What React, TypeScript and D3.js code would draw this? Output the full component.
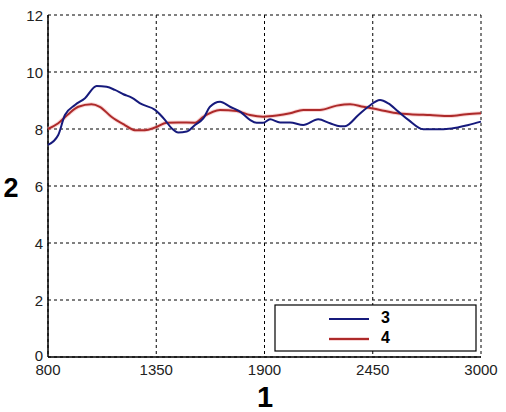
import React from "react";
import * as d3 from "d3";

const series3X = [800, 852, 886, 937, 988, 1047, 1098, 1140, 1183, 1225, 1276, 1344, 1394, 1429, 1462, 1505, 1547, 1589, 1623, 1674, 1725, 1776, 1826, 1860, 1894, 1928, 1979, 2030, 2097, 2173, 2233, 2284, 2309, 2377, 2427, 2487, 2529, 2580, 2631, 2707, 2766, 2851, 2936, 3000];
const series3Y = [7.44, 7.79, 8.49, 8.84, 9.08, 9.51, 9.48, 9.37, 9.22, 9.10, 8.87, 8.67, 8.32, 8.02, 7.88, 7.91, 8.14, 8.37, 8.78, 8.96, 8.78, 8.61, 8.32, 8.22, 8.22, 8.34, 8.23, 8.23, 8.14, 8.34, 8.20, 8.10, 8.10, 8.49, 8.78, 9.02, 8.90, 8.61, 8.32, 7.99, 7.99, 8.02, 8.14, 8.26];

const series4X = [800, 852, 903, 954, 1021, 1063, 1122, 1190, 1241, 1292, 1344, 1403, 1462, 1547, 1589, 1674, 1759, 1826, 1894, 1962, 2030, 2097, 2182, 2267, 2335, 2402, 2487, 2555, 2639, 2741, 2842, 2927, 3000];
const series4Y = [8.0, 8.2, 8.52, 8.78, 8.87, 8.78, 8.43, 8.14, 7.96, 7.96, 8.05, 8.22, 8.23, 8.22, 8.43, 8.67, 8.63, 8.49, 8.43, 8.47, 8.55, 8.67, 8.67, 8.82, 8.87, 8.78, 8.67, 8.57, 8.52, 8.49, 8.46, 8.52, 8.55];

const xTicks = [800, 1350, 1900, 2450, 3000];
const yTicks = [0, 2, 4, 6, 8, 10, 12];
const legendLabels = ["3", "4"];
const xLabel = "1";
const yLabel = "2";

const BLUE = "#161a7c";
const RED = "#ad2a2a";

export default function App() {
  const left = 48, right = 481, top = 15, bottom = 357;
  const x = d3.scaleLinear().domain([800, 3000]).range([left, right]);
  const y = d3.scaleLinear().domain([0, 12]).range([bottom, top]);
  const line = d3
    .line<[number, number]>()
    .x((d) => x(d[0]))
    .y((d) => y(d[1]))
    .curve(d3.curveMonotoneX);
  const d3path = line(series3X.map((v, i) => [v, series3Y[i]] as [number, number])) || "";
  const d4path = line(series4X.map((v, i) => [v, series4Y[i]] as [number, number])) || "";
  const font = "Arial, 'Liberation Sans', sans-serif";
  return (
    <svg
      width={506}
      height={412}
      style={{ position: "absolute", left: 0, top: 0, background: "#fff" }}
      fontFamily={font}
    >
      <rect x={0} y={0} width={506} height={412} fill="#fff" />
      {/* grid */}
      {xTicks.map((t) => (
        <line key={"gx" + t} x1={x(t)} x2={x(t)} y1={top} y2={bottom} stroke="#000" strokeWidth={1} strokeDasharray="3,3" />
      ))}
      {yTicks.map((t) => (
        <line key={"gy" + t} x1={left} x2={right} y1={y(t)} y2={y(t)} stroke="#000" strokeWidth={1} strokeDasharray="3,3" />
      ))}
      {/* axes */}
      <line x1={left} x2={left} y1={top} y2={bottom} stroke="#000" strokeWidth={1.5} />
      <line x1={left} x2={right} y1={bottom} y2={bottom} stroke="#000" strokeWidth={1.5} />
      {/* series */}
      <path d={d4path} fill="none" stroke="#f4b0b0" strokeWidth={4} strokeOpacity={0.5} />
      <path d={d4path} fill="none" stroke={RED} strokeWidth={2} />
      <path d={d3path} fill="none" stroke={BLUE} strokeWidth={2} />
      {/* tick labels */}
      {yTicks.map((t) => (
        <text key={"ty" + t} x={left - 5} y={y(t) + (t === 0 ? 4 : 6)} textAnchor="end" fontSize={15} fill="#222">
          {t}
        </text>
      ))}
      {xTicks.map((t) => (
        <text key={"tx" + t} x={x(t)} y={375} textAnchor="middle" fontSize={15} fill="#222">
          {t}
        </text>
      ))}
      {/* axis labels */}
      <text x={265} y={407} textAnchor="middle" fontSize={29} fontWeight="bold" fill="#000">
        {xLabel}
      </text>
      <text x={11} y={197} textAnchor="middle" fontSize={27} fontWeight="bold" fill="#000">
        {yLabel}
      </text>
      {/* legend */}
      <rect x={275} y={305} width={201} height={46} fill="#fff" stroke="#000" strokeWidth={1.2} />
      <line x1={329} x2={369} y1={319} y2={319} stroke={BLUE} strokeWidth={2} />
      <line x1={329} x2={369} y1={339} y2={339} stroke="#f4b0b0" strokeWidth={4} strokeOpacity={0.5} />
      <line x1={329} x2={369} y1={339} y2={339} stroke={RED} strokeWidth={2} />
      <text x={381} y={323} fontSize={16} fontWeight="bold" fill="#000">
        {legendLabels[0]}
      </text>
      <text x={381} y={343} fontSize={16} fontWeight="bold" fill="#000">
        {legendLabels[1]}
      </text>
    </svg>
  );
}
